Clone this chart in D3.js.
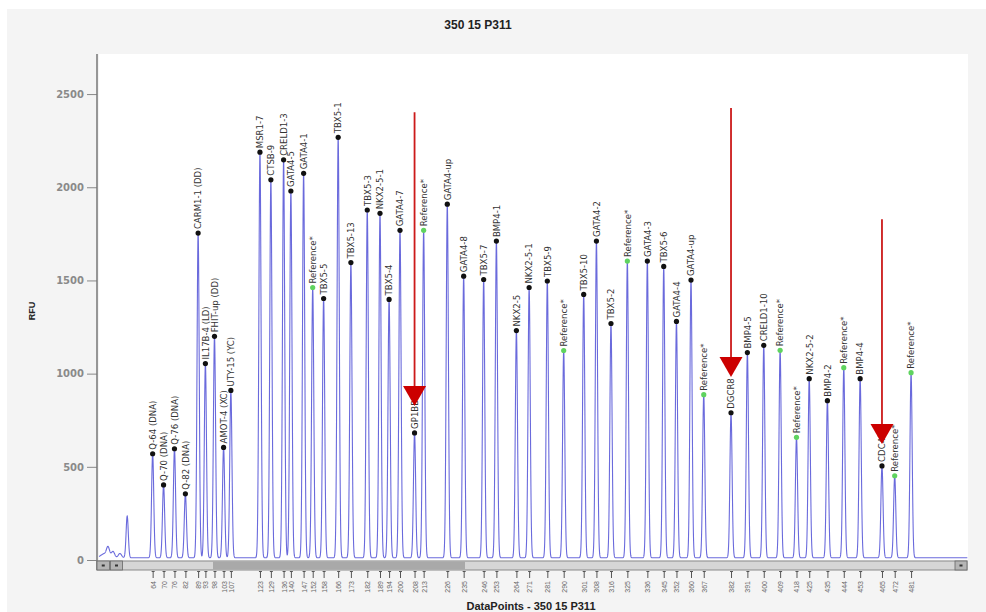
<!DOCTYPE html>
<html>
<head>
<meta charset="utf-8">
<script src="https://cdn.jsdelivr.net/npm/d3@7/dist/d3.min.js"></script>
<style>
  body { margin: 0; background: #ffffff; }
  svg { display: block; }
  .narrow { font-family: "Liberation Sans Narrow", "Arial Narrow", "DejaVu Sans Condensed", sans-serif; }
</style>
</head>
<body>
<svg id="chart" width="986" height="612"></svg>
<script>
// Probe peaks: name, fragment size (nt) and peak height (RFU)
const probeNames = [
  "Q-64 (DNA)", "Q-70 (DNA)", "Q-76 (DNA)", "Q-82 (DNA)", "CARM1-1 (DD)", "IL17B-4 (LD)",
  "FHIT-up (DD)", "AMOT-4 (XC)", "UTY-15 (YC)",
  "MSR1-7", "CTSB-9", "CRELD1-3", "GATA4-5", "GATA4-1", "Reference*", "TBX5-5", "TBX5-1",
  "TBX5-13", "TBX5-3", "NKX2-5-1", "TBX5-4", "GATA4-7", "GP1BB", "Reference*",
  "GATA4-up", "GATA4-8", "TBX5-7", "BMP4-1", "NKX2-5", "NKX2-5-1", "TBX5-9", "Reference*",
  "TBX5-10", "GATA4-2", "TBX5-2", "Reference*", "GATA4-3", "TBX5-6", "GATA4-4", "GATA4-up",
  "Reference*", "DGCR8", "BMP4-5", "CRELD1-10", "Reference*", "Reference*", "NKX2-5-2",
  "BMP4-2", "Reference*", "BMP4-4", "CDC45", "Reference*", "Reference*"
];
const probeSizes = [
  64, 70, 76, 82, 89, 93, 98, 103, 107,
  123, 129, 136, 140, 147, 152, 158, 166, 173, 182, 189, 194, 200, 208, 213,
  226, 235, 246, 253, 264, 271, 281, 290, 301, 308, 316,
  325, 336, 345, 352, 360, 367, 382, 391, 400,
  409, 418, 425, 435, 444, 453, 465, 472, 481
];
const probeRFU = [
  570, 403, 597, 355, 1754, 1054, 1200, 604, 910,
  2188, 2040, 2147, 1980, 2075, 1462, 1403, 2268, 1596, 1878, 1860, 1398, 1769, 682, 1769,
  1909, 1523, 1505, 1711, 1231, 1462, 1497, 1124, 1425, 1711, 1269,
  1604, 1604, 1575, 1280, 1502, 887, 790, 1113, 1152,
  1125, 658, 973, 855, 1032, 973, 505, 452, 1005
];

// Unlabelled primer / noise peaks at the start of the run
const minorSizes = [35.5, 37.2, 39.4, 42.2, 46.0, 50.0];
const minorRFU   = [22, 30, 72, 46, 35, 236];

// Red arrows pointing at deleted probes
const arrowProbes  = ["GP1BB", "DGCR8", "CDC45"];
const arrowTopRFU  = [2403, 2425, 1829];
const arrowTipRFU  = [826, 982, 622];

const yTicks = [0, 500, 1000, 1500, 2000, 2500];
const title = "350 15 P311";
const xTitle = "DataPoints - 350 15 P311";
const yTitle = "RFU";

const svg = d3.select("#chart");
const W = 986, H = 612;
const plot = { left: 99, right: 968, top: 54, bottom: 560 };

const x = d3.scaleLinear().domain([34.5, 512.3]).range([plot.left, plot.right]);
const y = d3.scaleLinear().domain([0, 2715]).range([plot.bottom, plot.top]);

// Panel backgrounds
svg.append("rect").attr("x", 7).attr("y", 9).attr("width", W - 7).attr("height", H - 9).attr("fill", "#f4f4f4");
svg.append("rect").attr("x", plot.left).attr("y", plot.top)
  .attr("width", plot.right - plot.left).attr("height", plot.bottom - plot.top).attr("fill", "#ffffff");

// Title
svg.append("text").attr("x", 478).attr("y", 29).attr("text-anchor", "middle")
  .attr("font-family", "Liberation Sans, Arial, sans-serif").attr("font-weight", "bold")
  .attr("font-size", 12).attr("fill", "#222").text(title);

// Electropherogram trace built from the peak list
const sigma = 0.6, sigmaMinor = 0.9, baseline = 12;
const samples = d3.range(34.6, 512, 0.07);
const trace = samples.map(s => {
  let v = baseline;
  for (let i = 0; i < probeSizes.length; i++) {
    const d = s - probeSizes[i];
    if (Math.abs(d) < 6) v += (probeRFU[i] - baseline) * Math.exp(-d * d / (2 * sigma * sigma));
  }
  for (let i = 0; i < minorSizes.length; i++) {
    const d = s - minorSizes[i];
    const sg = i === minorSizes.length - 1 ? sigma : sigmaMinor;
    if (Math.abs(d) < 6) v += (minorRFU[i] - baseline) * Math.exp(-d * d / (2 * sg * sg));
  }
  return [s, v];
});
svg.append("path").datum(trace)
  .attr("fill", "none").attr("stroke", "#5a5ad8").attr("stroke-opacity", 0.9).attr("stroke-width", 1.1)
  .attr("d", d3.line().x(d => x(d[0])).y(d => y(d[1])));

// Y axis
const yAxis = svg.append("g").attr("transform", `translate(${plot.left - 2},0)`)
  .call(d3.axisLeft(y).tickValues(yTicks).tickSize(10).tickSizeOuter(0).tickPadding(3).tickFormat(d3.format("d")));
yAxis.select(".domain").remove();
yAxis.append("line").attr("x1", 0).attr("x2", 0).attr("y1", plot.top).attr("y2", 570)
  .attr("stroke", "#777").attr("stroke-width", 1.5);
yAxis.selectAll(".tick line").attr("stroke", "#888");
yAxis.selectAll(".tick text").attr("font-family", "DejaVu Sans, sans-serif").attr("font-size", 10)
  .attr("font-weight", "bold").attr("fill", "#8a8a8a");

svg.append("text").attr("transform", "translate(35,311) rotate(-90)").attr("text-anchor", "middle")
  .attr("font-family", "Liberation Sans, Arial, sans-serif").attr("font-weight", "bold")
  .attr("font-size", 9).attr("fill", "#222").text(yTitle);

// Scroll bar under the trace
const sb = svg.append("g");
sb.append("rect").attr("x", 97).attr("y", 561).attr("width", 870).attr("height", 9)
  .attr("fill", "#d6d6d6").attr("stroke", "#8a8a8a").attr("stroke-width", 1);
sb.append("rect").attr("x", 213).attr("y", 561.5).attr("width", 252).attr("height", 8)
  .attr("fill", "#a9a9a9");
[[97, 109.5], [110.5, 122.5], [955, 967]].forEach(([a, b]) => {
  sb.append("rect").attr("x", a).attr("y", 561).attr("width", b - a).attr("height", 9)
    .attr("fill", "#b5b5b5").attr("stroke", "#666").attr("stroke-width", 0.8);
  sb.append("rect").attr("x", (a + b) / 2 - 1.5).attr("y", 564.5).attr("width", 3).attr("height", 2)
    .attr("fill", "#333");
});

// X axis: a tick at every probe, labelled with its size
const xAxis = svg.append("g").attr("transform", "translate(0,571)")
  .call(d3.axisBottom(x).tickValues(probeSizes).tickSize(7).tickSizeOuter(0));
xAxis.select(".domain").remove();
xAxis.selectAll(".tick line").attr("stroke", "#555");
xAxis.selectAll(".tick").append("line").attr("x1", -1.5).attr("x2", 1.5).attr("y1", 0.5).attr("y2", 0.5)
  .attr("stroke", "#555");
xAxis.selectAll(".tick text")
  .attr("transform", "rotate(-90)").attr("text-anchor", "end")
  .attr("x", -10).attr("y", 0).attr("dy", "0.35em")
  .attr("font-family", "Liberation Sans Narrow, Arial Narrow, sans-serif").attr("font-size", 7)
  .attr("fill", "#666");

svg.append("text").attr("x", 531).attr("y", 610).attr("text-anchor", "middle")
  .attr("font-family", "Liberation Sans, Arial, sans-serif").attr("font-weight", "bold")
  .attr("font-size", 11).attr("fill", "#222").text(xTitle);

// Peak markers and rotated probe labels
const peaks = probeNames.map((n, i) => ({ name: n, size: probeSizes[i], rfu: probeRFU[i] }));
const pg = svg.append("g");
pg.selectAll("text").data(peaks).join("text")
  .attr("class", "narrow")
  .attr("transform", d => `translate(${x(d.size)},${y(d.rfu) - 4}) rotate(-90)`)
  .attr("dy", "0.35em").attr("font-size", 9.5).attr("fill", "#333")
  .text(d => d.name);
pg.selectAll("circle").data(peaks).join("circle")
  .attr("cx", d => x(d.size)).attr("cy", d => y(d.rfu)).attr("r", 2.6)
  .attr("fill", d => d.name === "Reference*" ? "#5fd35f" : "#111");

// Red arrows
const ag = svg.append("g");
arrowProbes.forEach((p, i) => {
  const cx = x(probeSizes[probeNames.indexOf(p)]);
  const yTop = y(arrowTopRFU[i]), yTip = y(arrowTipRFU[i]);
  const headH = 20, headW = 11.5;
  ag.append("line").attr("x1", cx).attr("x2", cx).attr("y1", yTop).attr("y2", yTip - headH + 2)
    .attr("stroke", "#cc1a1a").attr("stroke-width", 1.8);
  ag.append("path")
    .attr("d", `M${cx - headW},${yTip - headH}L${cx + headW},${yTip - headH}L${cx},${yTip}Z`)
    .attr("fill", "#cc0000");
});
</script>
</body>
</html>
